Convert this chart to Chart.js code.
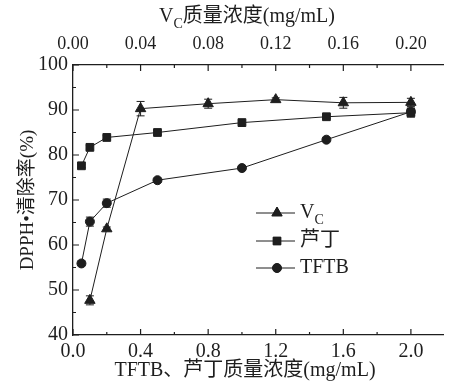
<!DOCTYPE html>
<html>
<head>
<meta charset="utf-8">
<script src="https://cdn.jsdelivr.net/npm/chart.js@4.4.0/dist/chart.umd.min.js"></script>
<style>
  html, body { margin: 0; padding: 0; background: #fff; }
  #wrap { width: 450px; height: 382px; position: relative; }
</style>
</head>
<body>
<div id="wrap"><canvas id="chart"></canvas></div>
<script>
(function () {
  "use strict";

  // TFTB and rutin, x in mg/mL on the bottom axis
  var tftbX = [0.05, 0.1, 0.2, 0.5, 1.0, 1.5, 2.0];
  var tftbY = [55.9, 65.2, 69.3, 74.4, 77.1, 83.4, 89.6];
  var tftbErr = [0.5, 1.0, 0.9, 0.4, 0.4, 0.4, 0.8];

  var rutinX = [0.05, 0.1, 0.2, 0.5, 1.0, 1.5, 2.0];
  var rutinY = [77.6, 81.7, 83.9, 85.0, 87.2, 88.5, 89.4];
  var rutinErr = [0.4, 0.4, 0.4, 0.4, 0.4, 0.4, 1.0];

  // Vc, x in mg/mL on the top axis
  var vcX = [0.01, 0.02, 0.04, 0.08, 0.12, 0.16, 0.20];
  var vcY = [47.7, 63.6, 90.3, 91.4, 92.3, 91.6, 91.7];
  var vcErr = [1.0, 0.4, 1.6, 1.0, 0.4, 1.2, 0.9];

  var bottomTitle = "TFTB、芦丁质量浓度(mg/mL)";
  var topTitle = ["V", "C", "质量浓度(mg/mL)"];
  var yTitle = "DPPH•清除率(%)";
  var legendNames = [["V", "C"], ["芦丁", ""], ["TFTB", ""]];

  var FONT = "'Liberation Serif', 'Noto Sans CJK SC', serif";
  var INK = "#1e1e1e";

  function pts(xs, ys) {
    return xs.map(function (x, i) { return { x: x, y: ys[i] }; });
  }

  function near(v, step) {
    var r = v / step;
    return Math.abs(r - Math.round(r)) < 1e-6;
  }

  function errorBars(chart, idx, errs) {
    var meta = chart.getDatasetMeta(idx);
    var ys = chart.scales.y;
    var ctx = chart.ctx;
    ctx.save();
    ctx.strokeStyle = INK;
    ctx.lineWidth = 1;
    meta.data.forEach(function (p, i) {
      var v = chart.data.datasets[idx].data[i].y;
      var top = ys.getPixelForValue(v + errs[i]);
      var bot = ys.getPixelForValue(v - errs[i]);
      ctx.beginPath();
      ctx.moveTo(p.x, top); ctx.lineTo(p.x, bot);
      ctx.moveTo(p.x - 4, top); ctx.lineTo(p.x + 4, top);
      ctx.moveTo(p.x - 4, bot); ctx.lineTo(p.x + 4, bot);
      ctx.stroke();
    });
    ctx.restore();
  }

  function subText(ctx, parts, x, y, size, align) {
    // parts: [main, sub, rest]
    var subSize = Math.round(size * 0.68);
    ctx.font = size + "px " + FONT;
    var w0 = ctx.measureText(parts[0]).width;
    var rest = parts[2] || "";
    var w2 = ctx.measureText(rest).width;
    ctx.font = subSize + "px " + FONT;
    var w1 = ctx.measureText(parts[1] || "").width;
    var sx = align === "center" ? x - (w0 + w1 + w2) / 2 : x;
    ctx.textAlign = "left";
    ctx.textBaseline = "middle";
    ctx.font = size + "px " + FONT;
    ctx.fillText(parts[0], sx, y);
    if (parts[1]) {
      ctx.font = subSize + "px " + FONT;
      ctx.fillText(parts[1], sx + w0, y + size * 0.38);
    }
    ctx.font = size + "px " + FONT;
    if (rest) ctx.fillText(rest, sx + w0 + w1, y);
  }

  var overlay = {
    id: "overlay",
    beforeDatasetsDraw: function (chart) {
      errorBars(chart, 0, vcErr);
      errorBars(chart, 1, rutinErr);
      errorBars(chart, 2, tftbErr);
    },
    afterDraw: function (chart) {
      var ctx = chart.ctx;
      var s = chart.scales;
      var a = chart.chartArea;
      ctx.save();
      ctx.strokeStyle = INK;
      ctx.lineWidth = 1.2;
      ctx.beginPath();
      s.x.ticks.forEach(function (t) {
        var px = s.x.getPixelForValue(t.value);
        var len = near(t.value, 0.4) ? 6 : 3;
        ctx.moveTo(px, a.bottom); ctx.lineTo(px, a.bottom - len);
      });
      s.x2.ticks.forEach(function (t) {
        var px = s.x2.getPixelForValue(t.value);
        var len = near(t.value, 0.04) ? 6 : 3;
        ctx.moveTo(px, a.top); ctx.lineTo(px, a.top + len);
      });
      s.y.ticks.forEach(function (t) {
        var py = s.y.getPixelForValue(t.value);
        var len = near(t.value, 10) ? 6 : 3;
        ctx.moveTo(a.left, py); ctx.lineTo(a.left + len, py);
      });
      ctx.stroke();

      // axis titles
      ctx.fillStyle = INK;
      subText(ctx, topTitle, 247, 17, 20, "center");
      ctx.font = "20px " + FONT;
      ctx.textAlign = "center";
      ctx.textBaseline = "middle";
      ctx.fillText(bottomTitle, 245, 371);

      // legend
      var rows = [213, 241, 268];
      var styles = ["triangle", "rect", "circle"];
      var radii = [6, 5.5, 4.5];
      rows.forEach(function (ry, i) {
        ctx.strokeStyle = INK;
        ctx.lineWidth = 1;
        ctx.beginPath();
        ctx.moveTo(256, ry); ctx.lineTo(295, ry);
        ctx.stroke();
        ctx.fillStyle = INK;
        Chart.helpers.drawPoint(ctx, { pointStyle: styles[i], radius: radii[i], borderWidth: 1 }, 277, ry);
        ctx.fill();
        subText(ctx, [legendNames[i][0], legendNames[i][1], ""], 300, ry, 20, "left");
      });
      ctx.restore();
    }
  };

  var common = {
    borderColor: INK,
    backgroundColor: INK,
    pointBackgroundColor: INK,
    pointBorderColor: INK,
    borderWidth: 1,
    showLine: true,
    tension: 0
  };

  new Chart(document.getElementById("chart"), {
    type: "scatter",
    data: {
      datasets: [
        Object.assign({ label: "Vc", data: pts(vcX, vcY), xAxisID: "x2", yAxisID: "y",
          pointStyle: "triangle", pointRadius: 6 }, common),
        Object.assign({ label: "芦丁", data: pts(rutinX, rutinY), xAxisID: "x", yAxisID: "y",
          pointStyle: "rect", pointRadius: 5.5 }, common),
        Object.assign({ label: "TFTB", data: pts(tftbX, tftbY), xAxisID: "x", yAxisID: "y",
          pointStyle: "circle", pointRadius: 4.5 }, common)
      ]
    },
    options: {
      responsive: true,
      maintainAspectRatio: false,
      animation: false,
      layout: { padding: { left: 0, right: 5, top: 0, bottom: 0 } },
      plugins: {
        legend: { display: false },
        tooltip: { enabled: false }
      },
      scales: {
        x: {
          type: "linear",
          position: "bottom",
          min: 0,
          max: 2.19,
          afterFit: function (sc) { sc.height = 47; },
          grid: { display: true, drawOnChartArea: false, drawTicks: false },
          border: { display: true, color: INK, width: 1.3 },
          ticks: {
            stepSize: 0.2,
            includeBounds: false,
            autoSkip: false,
            maxRotation: 0,
            padding: 5,
            color: INK,
            font: { family: FONT, size: 20 },
            callback: function (v) { return near(v, 0.4) ? v.toFixed(1) : ""; }
          }
        },
        x2: {
          type: "linear",
          position: "top",
          min: 0,
          max: 0.219,
          afterFit: function (sc) { sc.height = 65; },
          grid: { display: true, drawOnChartArea: false, drawTicks: false },
          border: { display: true, color: INK, width: 1.3 },
          ticks: {
            stepSize: 0.02,
            includeBounds: false,
            autoSkip: false,
            maxRotation: 0,
            padding: 10,
            color: INK,
            font: { family: FONT, size: 18 },
            callback: function (v) { return near(v, 0.04) ? v.toFixed(2) : ""; }
          }
        },
        y: {
          type: "linear",
          position: "left",
          min: 40,
          max: 100,
          afterFit: function (sc) { sc.width = 73; },
          grid: { display: true, drawOnChartArea: false, drawTicks: false },
          border: { display: true, color: INK, width: 1.3 },
          title: {
            display: true,
            text: yTitle,
            color: INK,
            font: { family: FONT, size: 19 },
            padding: { top: 17, bottom: 0 }
          },
          ticks: {
            stepSize: 5,
            autoSkip: false,
            padding: 5,
            color: INK,
            font: { family: FONT, size: 20 },
            callback: function (v) { return near(v, 10) ? String(v) : ""; }
          }
        }
      }
    },
    plugins: [overlay]
  });
})();
</script>
</body>
</html>
